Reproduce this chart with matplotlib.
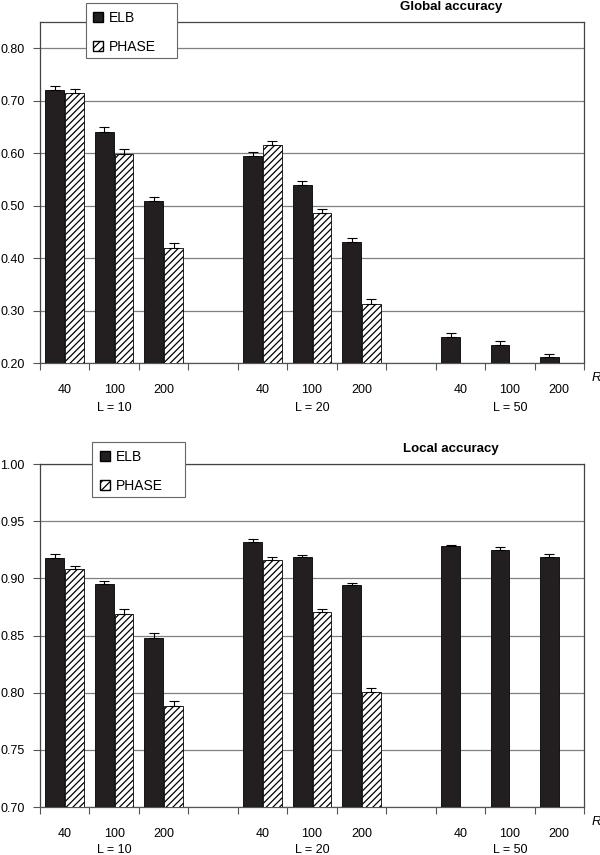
import matplotlib.pyplot as plt
import matplotlib.transforms as mtransforms
from matplotlib.patches import Patch, Rectangle
import numpy as np

plt.rcParams['font.family'] = ['Liberation Sans', 'DejaVu Sans']
plt.rcParams['hatch.linewidth'] = 0.9

r_labels = ['40', '100', '200']
l_labels = ['L = 10', 'L = 20', 'L = 50']

# global accuracy (top panel)
glob_elb = [0.720, 0.640, 0.508, 0.595, 0.540, 0.430, 0.250, 0.235, 0.212]
glob_elb_err = [0.008, 0.009, 0.008, 0.007, 0.007, 0.008, 0.007, 0.007, 0.006]
glob_phase = [0.714, 0.598, 0.420, 0.615, 0.485, 0.313]
glob_phase_err = [0.008, 0.010, 0.009, 0.008, 0.008, 0.009]

# local accuracy (bottom panel)
loc_elb = [0.918, 0.895, 0.848, 0.932, 0.919, 0.894, 0.928, 0.925, 0.919]
loc_elb_err = [0.003, 0.003, 0.004, 0.002, 0.001, 0.002, 0.001, 0.002, 0.002]
loc_phase = [0.908, 0.869, 0.788, 0.916, 0.871, 0.801]
loc_phase_err = [0.003, 0.004, 0.005, 0.003, 0.002, 0.003]

dark = '#231f20'
grid_c = '#808080'

# slot positions: 3 R values, one empty slot, 3, empty, 3
slots = [0, 1, 2, 4, 5, 6, 8, 9, 10]
n_slots = 11

W, H = 600, 855


def draw_panel(fig, ax, elb, elb_err, phase, phase_err, ylim, yticks, title, box, leg_at,
               l_off):
    xc = np.array(slots) + 0.5
    w = 0.38
    ax.bar(xc[:len(elb)] - 0.2, elb, w, color=dark, edgecolor='black', linewidth=0.6,
           zorder=3, yerr=[np.zeros(len(elb)), elb_err],
           error_kw=dict(ecolor='black', elinewidth=0.8, capsize=3.5, capthick=0.8))
    ax.bar(xc[:len(phase)] + 0.2, phase, w, color='white', edgecolor='black', linewidth=0.6,
           hatch='/////', zorder=3, yerr=[np.zeros(len(phase)), phase_err],
           error_kw=dict(ecolor='black', elinewidth=0.8, capsize=3.5, capthick=0.8))

    ax.set_xlim(0, n_slots)
    ax.set_ylim(*ylim)
    ax.set_yticks(yticks)
    ax.set_yticklabels([f'{t:.2f}' for t in yticks], fontsize=9)
    ax.yaxis.grid(True, color=grid_c, linewidth=0.9, zorder=0)
    ax.set_axisbelow(True)

    ax.set_xticks(np.arange(n_slots + 1))
    ax.set_xticklabels([])
    ax.set_xticks(xc, minor=True)
    ax.set_xticklabels(r_labels * 3, minor=True, fontsize=9)
    ax.tick_params(axis='x', which='major', length=5, width=0.8, color='#555555', direction='out')
    ax.tick_params(axis='x', which='minor', length=0, pad=15)
    ax.tick_params(axis='y', length=5, width=0.8, color='#555555', direction='out', pad=6)

    for s in ['left', 'right', 'top']:
        ax.spines[s].set_color('#444444')
        ax.spines[s].set_linewidth(0.9)
    ax.spines['bottom'].set_color('#555555')
    ax.spines['bottom'].set_linewidth(0.9)

    # group labels some pixels below the axis
    trans = mtransforms.blended_transform_factory(ax.transData, ax.transAxes)
    trans = trans + mtransforms.ScaledTranslation(0, -l_off / 100, fig.dpi_scale_trans)
    for i, lab in enumerate(l_labels):
        ax.text(slots[3 * i + 1] + 0.5, 0, lab, transform=trans,
                ha='center', va='center', fontsize=9)
    ax.text(1.022, -0.045, 'R', transform=ax.transAxes, ha='center', va='center',
            fontsize=9.5, style='italic')
    ttrans = ax.transAxes + mtransforms.ScaledTranslation(0, 15 / 100, fig.dpi_scale_trans)
    ax.text(0.755, 1.0, title, transform=ttrans, ha='center', va='center',
            fontsize=9.5, fontweight='bold')

    # legend frame drawn separately (it is wider than the entries)
    x0, y0, x1, y1 = box
    fig.patches.append(Rectangle((x0 / W, 1 - y1 / H), (x1 - x0) / W, (y1 - y0) / H,
                                 transform=fig.transFigure, facecolor='white',
                                 edgecolor='#666666', linewidth=0.8, zorder=9))
    handles = [Patch(facecolor=dark, edgecolor='black', label='ELB'),
               Patch(facecolor='white', edgecolor='black', hatch='////', label='PHASE')]
    leg = fig.legend(handles=handles, loc='upper left',
                     bbox_to_anchor=(leg_at[0] / W, 1 - leg_at[1] / H),
                     frameon=False, fontsize=10, handlelength=0.75, handleheight=0.75,
                     handletextpad=0.4, labelspacing=1.05, borderpad=0, borderaxespad=0)
    leg.set_zorder(10)


fig = plt.figure(figsize=(6, 8.55), dpi=100)
ax1 = fig.add_axes([0.0667, 0.5754, 0.9067, 0.3989])
ax2 = fig.add_axes([0.0667, 0.0561, 0.9067, 0.4012])

draw_panel(fig, ax1, glob_elb, glob_elb_err, glob_phase, glob_phase_err,
           (0.2, 0.85), np.round(np.arange(0.2, 0.81, 0.1), 2),
           'Global accuracy', (86, 3, 177, 58), (93, 11), 45)
draw_panel(fig, ax2, loc_elb, loc_elb_err, loc_phase, loc_phase_err,
           (0.7, 1.0), np.round(np.arange(0.7, 1.001, 0.05), 2),
           'Local accuracy', (92, 442, 185, 497), (100, 450), 43)

fig.savefig('out.png', dpi=100)
